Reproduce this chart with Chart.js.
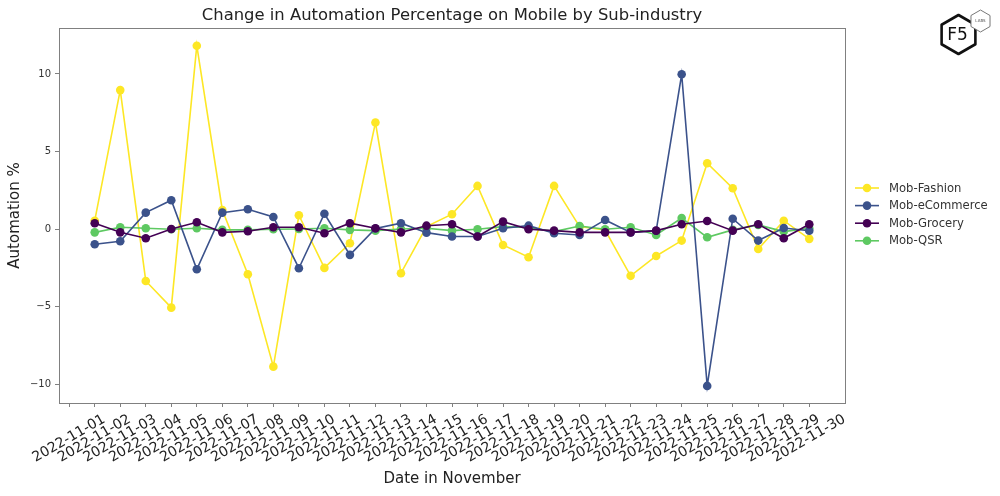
<!DOCTYPE html>
<html><head><meta charset="utf-8">
<script src="https://cdn.jsdelivr.net/npm/chart.js@4"></script>
<style>html,body{margin:0;padding:0;background:#fff}#wrap{width:1000px;height:496px;position:relative}</style>
</head><body><div id="wrap"><canvas id="c"></canvas></div>
<script>
const chartTitle = 'Change in Automation Percentage on Mobile by Sub-industry';
const xTitle = 'Date in November';
const yTitle = 'Automation %';
const tickLabels = ['2022-11-01','2022-11-02','2022-11-03','2022-11-04','2022-11-05','2022-11-06','2022-11-07','2022-11-08','2022-11-09','2022-11-10','2022-11-11','2022-11-12','2022-11-13','2022-11-14','2022-11-15','2022-11-16','2022-11-17','2022-11-18','2022-11-19','2022-11-20','2022-11-21','2022-11-22','2022-11-23','2022-11-24','2022-11-25','2022-11-26','2022-11-27','2022-11-28','2022-11-29','2022-11-30'];
const dates = ['2022-11-02','2022-11-03','2022-11-04','2022-11-05','2022-11-06','2022-11-07','2022-11-08','2022-11-09','2022-11-10','2022-11-11','2022-11-12','2022-11-13','2022-11-14','2022-11-15','2022-11-16','2022-11-17','2022-11-18','2022-11-19','2022-11-20','2022-11-21','2022-11-22','2022-11-23','2022-11-24','2022-11-25','2022-11-26','2022-11-27','2022-11-28','2022-11-29','2022-11-30'];
const yTicks = [-10, -5, 0, 5, 10];
const seriesNames = ['Mob-Fashion','Mob-eCommerce','Mob-Grocery','Mob-QSR'];
const fashion = [0.55, 8.96, -3.33, -5.05, 11.82, 1.24, -2.9, -8.85, 0.9, -2.49, -0.9, 6.87, -2.83, 0.17, 0.97, 2.79, -1.01, -1.8, 2.79, 0.17, -0.05, -3.0, -1.72, -0.73, 4.25, 2.64, -1.27, 0.55, -0.62];
const ecommerce = [-0.97, -0.77, 1.07, 1.87, -2.58, 1.07, 1.29, 0.79, -2.51, 1.0, -1.65, 0.05, 0.39, -0.22, -0.47, -0.47, 0.06, 0.23, -0.26, -0.37, 0.6, -0.2, -0.1, 9.98, -10.09, 0.68, -0.73, 0.08, -0.1];
const grocery = [0.39, -0.2, -0.58, 0.02, 0.45, -0.2, -0.13, 0.13, 0.13, -0.26, 0.39, 0.06, -0.2, 0.23, 0.32, -0.47, 0.49, 0.0, -0.09, -0.2, -0.2, -0.2, -0.09, 0.32, 0.53, -0.09, 0.32, -0.58, 0.32];
const qsr = [-0.2, 0.13, 0.06, 0.0, 0.06, -0.04, -0.04, 0.0, 0.02, 0.06, -0.04, -0.09, 0.02, 0.06, -0.09, 0.0, 0.17, 0.11, -0.15, 0.21, 0.0, 0.13, -0.37, 0.72, -0.52, -0.04, 0.28, -0.15, 0.06];
const colors = ['#fde725', '#3b528b', '#440154', '#5ec962'];
const drawOrder = [3, 1, 0, 2];

const FONT = "'DejaVu Sans', sans-serif";
const allSeries = [fashion, ecommerce, grocery, qsr];
const datasets = allSeries.map((vals, i) => ({
  label: seriesNames[i],
  data: vals.map((v, j) => ({x: tickLabels.indexOf(dates[j]) + 1, y: v})),
  borderColor: colors[i],
  backgroundColor: colors[i],
  pointBackgroundColor: colors[i],
  pointBorderColor: colors[i],
  borderWidth: 1.6,
  pointRadius: 4.3,
  pointBorderWidth: 0,
  pointHoverRadius: 4.3,
  order: drawOrder[i],
  tension: 0
}));

function hexPath(ctx, cx, cy, r) {
  ctx.beginPath();
  for (let i = 0; i < 6; i++) {
    const a = Math.PI / 180 * (60 * i - 90);
    const x = cx + r * Math.cos(a), y = cy + r * Math.sin(a);
    if (i) ctx.lineTo(x, y); else ctx.moveTo(x, y);
  }
  ctx.closePath();
}

const decor = {
  id: 'decor',
  afterDraw(chart) {
    const ctx = chart.ctx, a = chart.chartArea;
    ctx.save();
    ctx.strokeStyle = '#808080';
    ctx.lineWidth = 1;
    ctx.strokeRect(Math.round(a.left) + 0.5, Math.round(a.top) + 0.5, Math.round(a.right - a.left), Math.round(a.bottom - a.top));
    ctx.fillStyle = '#222';
    ctx.font = '16.4px ' + FONT;
    ctx.textAlign = 'center';
    ctx.textBaseline = 'middle';
    ctx.fillText(chartTitle, (a.left + a.right) / 2, 16);
    ctx.font = '11.6px ' + FONT;
    ctx.textAlign = 'left';
    const ly0 = 188, ldy = 17.6;
    seriesNames.forEach((n, i) => {
      const y = ly0 + i * ldy;
      ctx.strokeStyle = colors[i];
      ctx.lineWidth = 1.6;
      ctx.beginPath(); ctx.moveTo(855, y); ctx.lineTo(879, y); ctx.stroke();
      ctx.fillStyle = colors[i];
      ctx.beginPath(); ctx.arc(867, y, 4.3, 0, Math.PI * 2); ctx.fill();
      ctx.fillStyle = '#333';
      ctx.fillText(n, 889, y + 0.5);
    });
    ctx.lineJoin = 'round';
    hexPath(ctx, 958.5, 34.5, 19.5);
    ctx.strokeStyle = '#111'; ctx.lineWidth = 2.6; ctx.stroke();
    hexPath(ctx, 980.5, 21, 11);
    ctx.fillStyle = '#fff'; ctx.fill();
    ctx.strokeStyle = '#777'; ctx.lineWidth = 1; ctx.stroke();
    ctx.fillStyle = '#111';
    ctx.font = '17px ' + FONT;
    ctx.textAlign = 'center';
    ctx.fillText('F5', 957.5, 36);
    ctx.fillStyle = '#555';
    ctx.font = '4px ' + FONT;
    ctx.fillText('LABS', 980.5, 21);
    ctx.restore();
  }
};

new Chart(document.getElementById('c'), {
  type: 'line',
  data: {datasets},
  plugins: [decor],
  options: {
    responsive: true,
    maintainAspectRatio: false,
    animation: false,
    events: [],
    layout: {padding: {left: 0, right: 155, top: 28, bottom: 0}},
    plugins: {legend: {display: false}, title: {display: false}, tooltip: {enabled: false}},
    scales: {
      x: {
        type: 'linear',
        min: 0.6,
        max: 31.4,
        afterBuildTicks: s => { s.ticks = tickLabels.map((t, i) => ({value: i + 1})); },
        afterFit: s => { s.height = 93; s.paddingLeft = 0; s.paddingRight = 0; },
        ticks: {
          autoSkip: false,
          maxRotation: 30,
          minRotation: 30,
          labelOffset: 35,
          padding: 4,
          color: '#222',
          font: {family: FONT, size: 14},
          callback: (v) => tickLabels[Math.round(v) - 1] || ''
        },
        grid: {drawOnChartArea: false, drawTicks: true, tickLength: 4, color: '#808080'},
        border: {display: true, color: '#808080'},
        title: {display: true, text: xTitle, color: '#222', font: {family: FONT, size: 15}, padding: {top: 4, bottom: 8}}
      },
      y: {
        type: 'linear',
        min: -11.19,
        max: 12.96,
        afterBuildTicks: s => { s.ticks = yTicks.map(v => ({value: v})); },
        afterFit: s => { s.width = 59; s.paddingTop = 0; s.paddingBottom = 0; },
        ticks: {
          padding: 4,
          color: '#333',
          font: {family: FONT, size: 10},
          callback: v => (v < 0 ? '\u2212' + Math.abs(v) : String(v))
        },
        grid: {drawOnChartArea: false, drawTicks: true, tickLength: 4, color: '#808080'},
        border: {display: true, color: '#808080'},
        title: {display: true, text: yTitle, color: '#222', font: {family: FONT, size: 15}, padding: {top: 6, bottom: 6}}
      }
    }
  }
});
</script></body></html>
